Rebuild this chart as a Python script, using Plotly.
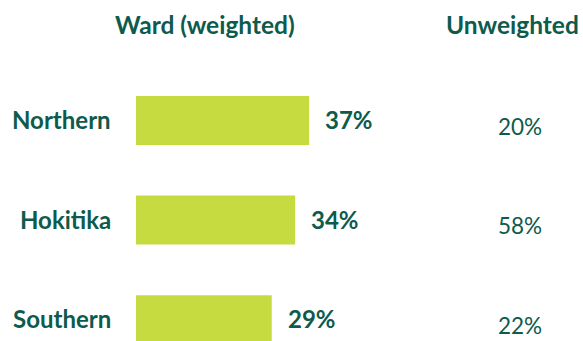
import plotly.graph_objects as go

wards = ["Northern", "Hokitika", "Southern"]
weighted = [37, 34, 29]
unweighted = [20, 58, 22]

TEXT = "#0E5A4C"
BAR = "#C5DB3F"
FONT = "Lato"
BOLD_SIZE = 24
PLAIN_SIZE = 22.5

pos = list(range(len(wards)))

fig = go.Figure(go.Bar(
    x=weighted, y=pos, orientation="h", width=0.49,
    marker=dict(color=BAR, line=dict(width=0)),
    hoverinfo="skip",
))

anns = []
for i, (w, v, u) in enumerate(zip(wards, weighted, unweighted)):
    anns.append(dict(x=-5.0, y=i - 0.01, text=f"<b>{w}</b>", xanchor="right", yanchor="middle",
                     showarrow=False, font=dict(size=BOLD_SIZE, color=TEXT, family=FONT)))
    anns.append(dict(x=v + 3.0, y=i - 0.01, text=f"<b>{v}%</b>", xanchor="left", yanchor="middle",
                     showarrow=False, font=dict(size=BOLD_SIZE, color=TEXT, family=FONT)))
    anns.append(dict(x=82.0, y=i + 0.06, text=f"{u}%", xanchor="center", yanchor="middle",
                     showarrow=False, font=dict(size=PLAIN_SIZE, color=TEXT, family=FONT)))

anns.append(dict(x=14.7, y=-0.96, text="<b>Ward (weighted)</b>", xanchor="center", yanchor="middle",
                 showarrow=False, font=dict(size=BOLD_SIZE + 0.5, color=TEXT, family=FONT)))
anns.append(dict(x=80.5, y=-0.96, text="<b>Unweighted</b>", xanchor="center", yanchor="middle",
                 showarrow=False, font=dict(size=BOLD_SIZE + 0.5, color=TEXT, family=FONT)))

fig.update_layout(
    width=583, height=341,
    margin=dict(l=0, r=0, t=0, b=0),
    paper_bgcolor="white", plot_bgcolor="white",
    showlegend=False,
    xaxis=dict(range=[-29.06, 95.51], visible=False, fixedrange=True),
    yaxis=dict(range=[2.216, -1.211], visible=False, fixedrange=True),
    annotations=anns,
)

fig.write_html("out.html")
